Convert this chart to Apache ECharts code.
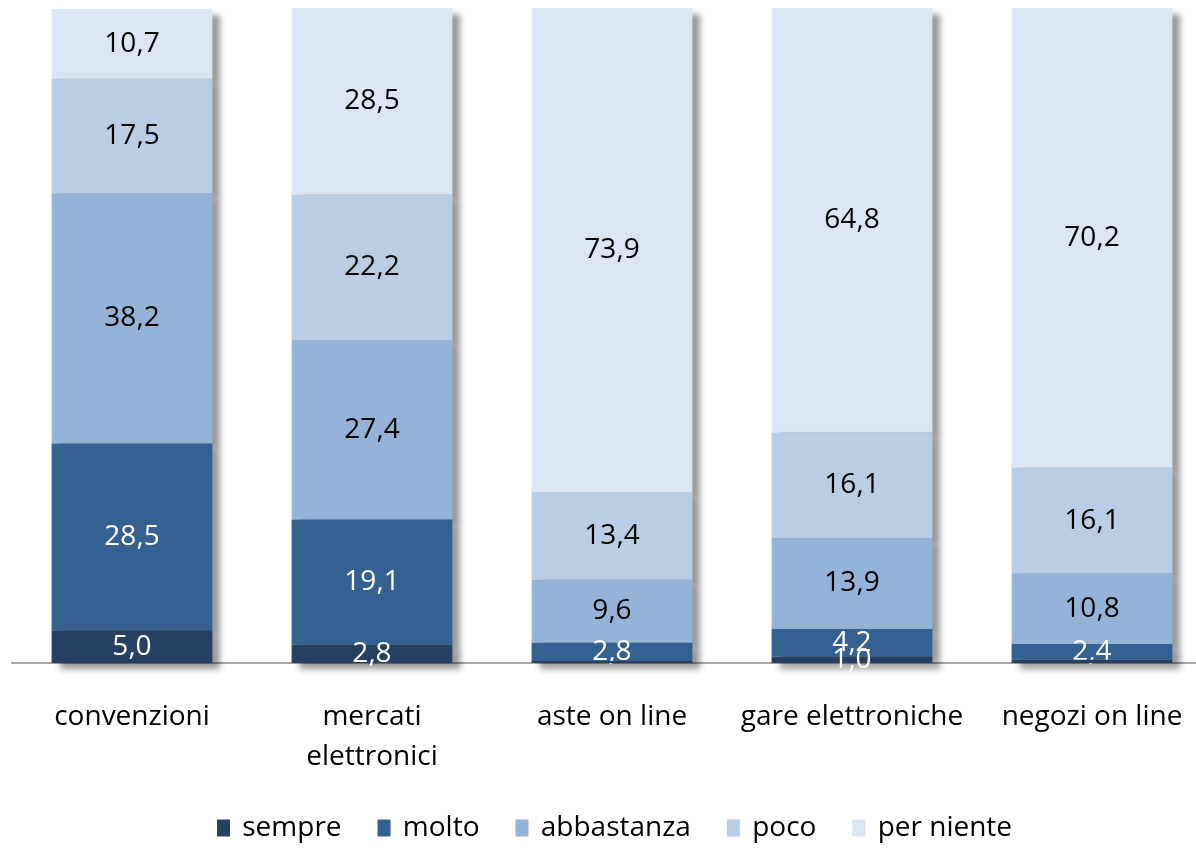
<!DOCTYPE html>
<html>
<head>
<meta charset="utf-8">
<script src="https://cdn.jsdelivr.net/npm/echarts@6/dist/echarts.min.js"></script>
<style>
  html, body { margin: 0; padding: 0; background: #fff; }
  #chart { width: 1196px; height: 849px; }
</style>
</head>
<body>
<div id="chart"></div>
<script>
// categorie e valori (%)
const categories = ['convenzioni', 'mercati\nelettronici', 'aste on line', 'gare elettroniche', 'negozi on line'];
const sempre     = [5.0, 2.8, 0.3, 1.0, 0.5];
const molto      = [28.5, 19.1, 2.8, 4.2, 2.4];
const abbastanza = [38.2, 27.4, 9.6, 13.9, 10.8];
const poco       = [17.5, 22.2, 13.4, 16.1, 16.1];
const perNiente  = [10.7, 28.5, 73.9, 64.8, 70.2];

const seriesDefs = [
  { name: 'sempre', data: sempre, color: '#254061', label: '#fff', z: 6 },
  { name: 'molto', data: molto, color: '#366092', label: '#fff', z: 5 },
  { name: 'abbastanza', data: abbastanza, color: '#95b3d7', label: '#000', z: 4 },
  { name: 'poco', data: poco, color: '#b9cde5', label: '#000', z: 3 },
  { name: 'per niente', data: perNiente, color: '#dce6f2', label: '#000', z: 2 }
];

const font = '"Open Sans", "Noto Sans", sans-serif';
const chart = echarts.init(document.getElementById('chart'));

chart.setOption({
  backgroundColor: '#fff',
  animation: false,
  // la griglia esce a destra oltre il bordo, come nell'originale
  grid: { left: 12, width: 1200, top: 8, bottom: 186, outerBoundsMode: 'none' },
  legend: {
    bottom: 2,
    left: 212,
    itemWidth: 13,
    itemHeight: 17,
    itemGap: 36,
    icon: 'rect',
    formatter: name => ' ' + name,
    textStyle: { fontFamily: font, fontSize: 28, color: '#000' },
    data: seriesDefs.map(s => s.name)
  },
  xAxis: {
    type: 'category',
    data: categories,
    axisLine: { lineStyle: { color: '#a6a6a6', width: 2 } },
    axisTick: { show: false },
    axisLabel: {
      interval: 0,
      margin: 34,
      fontFamily: font,
      fontSize: 28,
      lineHeight: 40,
      color: '#000'
    }
  },
  yAxis: { type: 'value', min: 0, max: 100, show: false },
  series: seriesDefs.map(s => ({
    name: s.name,
    type: 'bar',
    stack: 'tot',
    barWidth: '67%',
    z: s.z,
    data: s.data,
    itemStyle: {
      color: s.color,
      shadowColor: 'rgba(0,0,0,0.4)',
      shadowBlur: 6,
      shadowOffsetX: 8,
      shadowOffsetY: 6
    },
    label: {
      show: true,
      position: 'inside',
      fontFamily: font,
      fontSize: 28,
      color: s.label,
      formatter: p => p.value < 0.8 ? '' : p.value.toFixed(1).replace('.', ',')
    }
  }))
});
</script>
</body>
</html>
